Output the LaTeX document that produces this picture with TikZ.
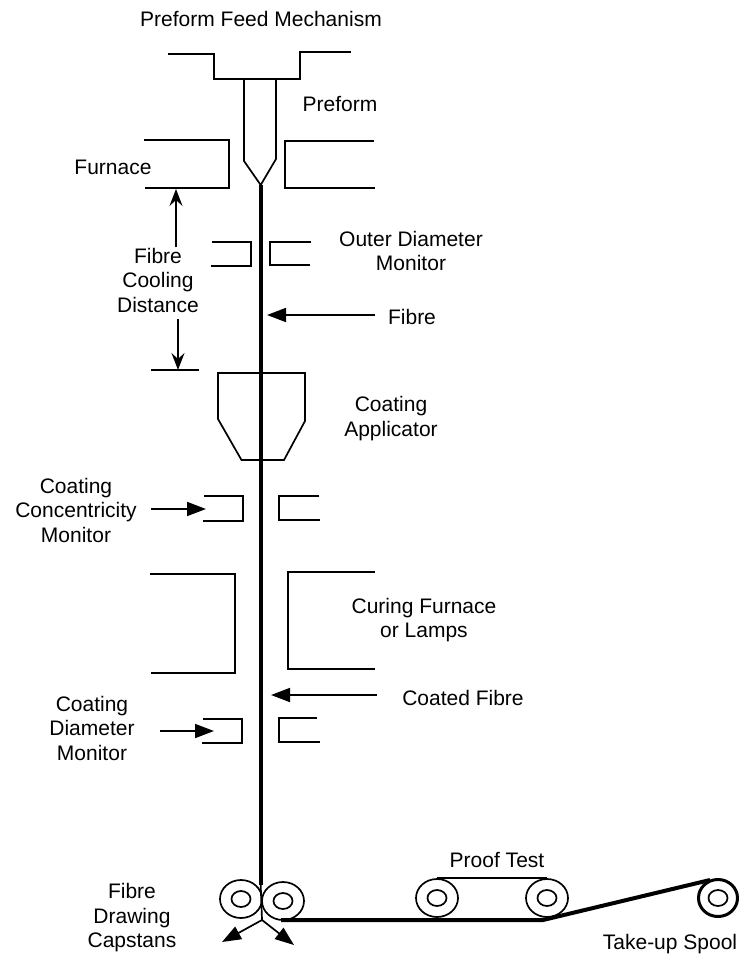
\documentclass[tikz,border=0pt]{standalone}
\usepackage{fontspec}
\setmainfont{Liberation Sans}
\usetikzlibrary{arrows.meta,shapes.geometric}
\tikzset{
  part/.style={line width=1.7pt,line join=miter},
  fibreline/.style={line width=4pt},
  ptr/.style={line width=1.7pt,-{Stealth[length=19pt,width=14pt,inset=0pt]}},
  dimptr/.style={line width=1.7pt,-{Stealth[length=17pt,width=13pt,inset=6pt]}},
  lab/.style={inner sep=0pt,align=center,font=\fontsize{21}{24.5}\selectfont},
  wheelout/.style={draw,ellipse,line width=1.7pt,inner sep=0pt,minimum width=42pt,minimum height=38pt},
  wheelin/.style={draw,ellipse,line width=1.7pt,inner sep=0pt,minimum width=19pt,minimum height=16pt},
}
\begin{document}
\begin{tikzpicture}[x=1pt,y=-1pt]
\useasboundingbox (0,0) rectangle (744,956);
% Feed mechanism and preform
\draw[part] (168,54) -- (214,54) -- (214,79) -- (300,79) -- (300,52) -- (351,52);
\coordinate (tip) at (260.7,185);
\draw[part] (244,79) -- (244,161) -- (tip) -- (276,159) -- (276,79);
% Furnace
\draw[part] (143.5,140) -- (229,140) -- (229,188) -- (145,188);
\draw[part] (374,141) -- (285,141) -- (285,188) -- (375,188);
% Outer diameter monitor
\draw[part] (212,242) -- (251,242) -- (251,266) -- (211,266);
\draw[part] (311,242) -- (270,242) -- (270,265) -- (310,265);
% Applicator
\draw[part] (218,373) -- (218,419) -- (241.5,460) -- (284,460) -- (305,421) -- (305,373) -- cycle;
% Concentricity monitor
\draw[part] (204,496) -- (243,496) -- (243,521) -- (203,521);
\draw[part] (319,496) -- (279,496) -- (279,520) -- (320,520);
% Curing furnace
\draw[part] (150,574) -- (235,574) -- (235,673) -- (151,673);
\draw[part] (375,572) -- (288,572) -- (288,669) -- (375,669);
% Coating diameter monitor
\draw[part] (203,719) -- (242,719) -- (242,743) -- (202,743);
\draw[part] (317,718) -- (279,718) -- (279,742) -- (320,742);
% Wheels
\node[wheelout] (capL) at (241,899) {};
\node[wheelin] (capLi) at (241,899) {};
\node[wheelout] (capR) at (283,901) {};
\node[wheelin] (capRi) at (283,901) {};
\node[wheelout] (testL) at (437,898) {};
\node[wheelin] (testLi) at (437,898) {};
\node[wheelout] (testR) at (547,898) {};
\node[wheelin] (testRi) at (547,898) {};
\node[wheelout,line width=3pt,minimum width=39pt,minimum height=37pt] (spool) at (718,898) {};
\node[wheelin] (spooli) at (718,898) {};
\draw[part] (testL.north) -- (testR.north);
% Fibre path
\coordinate (fork) at (262,920);
\coordinate (join) at (543,920);
\coordinate (fibreEnd) at (260.7,885);
\coordinate (lineStart) at (281,920);
\coordinate (spoolTop) at (710,880);
\draw[fibreline] (tip) -- (fibreEnd);
\draw[line width=1.7pt] (fibreEnd) -- (fork);
\draw[fibreline,line join=round] (lineStart) -- (join) -- (spoolTop);
% Labels
\node[lab] (lfeed) at (261,19) {Preform Feed Mechanism};
\node[lab] (lpre) at (340,104) {Preform};
\node[lab] (lfur) at (113,167) {Furnace};
\node[lab] (lcool) at (158,280) {Fibre\\Cooling\\Distance};
\node[lab] (lod) at (411,251) {Outer Diameter\\Monitor};
\node[lab] (lfib) at (412,317) {Fibre};
\node[lab] (lapp) at (391,418.5) {Coating\\Applicator};
\node[lab] (lcon) at (76,510) {Coating\\Concentricity\\Monitor};
\node[lab] (lcur) at (424,620) {Curing Furnace\\or Lamps};
\node[lab] (lcf) at (463,697.5) {Coated Fibre};
\node[lab] (lcd) at (92,728) {Coating\\Diameter\\Monitor};
\node[lab] (lcap) at (132,918) {Fibre\\Drawing\\Capstans};
\node[lab] (lpt) at (497,860) {Proof Test};
\node[lab] (lsp) at (670,944) {Take-up Spool};
% Arrows
\coordinate (coolA) at (151,370); \coordinate (coolB) at (199,370);
\draw[part] (coolA) -- (coolB);
\coordinate (upS) at (176,247); \coordinate (upE) at (176,189);
\coordinate (dnS) at (178,319); \coordinate (dnE) at (178,370);
\draw[dimptr] (upS) -- (upE);
\draw[dimptr] (dnS) -- (dnE);
\coordinate (fibS) at (375,315); \coordinate (fibE) at (267,315);
\draw[ptr] (fibS) -- (fibE);
\coordinate (conS) at (151,509); \coordinate (conE) at (206,509);
\draw[ptr] (conS) -- (conE);
\coordinate (cfS) at (377,695); \coordinate (cfE) at (271,695);
\draw[ptr] (cfS) -- (cfE);
\coordinate (cdS) at (160,731); \coordinate (cdE) at (214,731);
\draw[ptr] (cdS) -- (cdE);
\coordinate (outL) at (222,942); \coordinate (outR) at (294,945);
\draw[ptr] (fork) -- (outL);
\draw[ptr] (fork) -- (outR);
\end{tikzpicture}
\end{document}
